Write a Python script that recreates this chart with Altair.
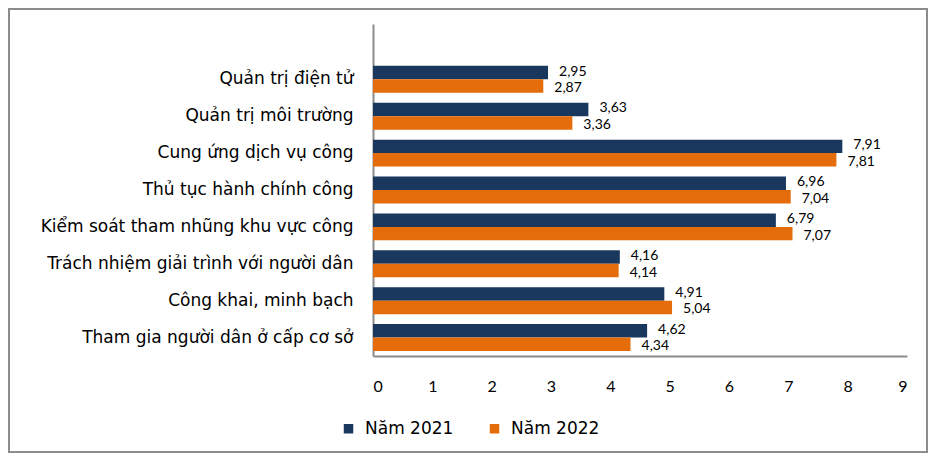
import altair as alt
import pandas as pd

categories = [
    "Quản trị điện tử\u00a0",
    "Quản trị môi trường\u00a0",
    "Cung ứng dịch vụ công",
    "Thủ tục hành chính công",
    "Kiểm soát tham nhũng khu vực công",
    "Trách nhiệm giải trình với người dân",
    "Công khai, minh bạch",
    "Tham gia người dân ở cấp cơ sở\u00a0",
]
series_names = ["Năm 2021", "Năm 2022"]
values_2021 = [2.95, 3.63, 7.91, 6.96, 6.79, 4.16, 4.91, 4.62]
values_2022 = [2.87, 3.36, 7.81, 7.04, 7.07, 4.14, 5.04, 4.34]
x_ticks = [0, 1, 2, 3, 4, 5, 6, 7, 8, 9]

colors = ["#1A375E", "#E46C0A"]

rows = []
for c, v1, v2 in zip(categories, values_2021, values_2022):
    rows.append({"category": c, "series": series_names[0], "value": v1})
    rows.append({"category": c, "series": series_names[1], "value": v2})
df = pd.DataFrame(rows)

y_domain = [" "] + categories

base = alt.Chart(df).encode(
    y=alt.Y(
        "category:N",
        scale=alt.Scale(domain=y_domain, paddingInner=0.27, paddingOuter=0.135),
        axis=alt.Axis(
            title=None,
            ticks=False,
            labelPadding=20,
            labelFont="DejaVu Sans",
            labelFontSize=17,
            labelColor="#000000",
            domainColor="#8C8C8C",
            domainWidth=2,
            labelLimit=400,
        ),
    ),
    yOffset=alt.YOffset(
        "series:N", sort=series_names, scale=alt.Scale(paddingInner=0, paddingOuter=0)
    ),
)

bars = base.mark_bar().encode(
    x=alt.X(
        "value:Q",
        scale=alt.Scale(domain=[0, 9], nice=False),
        axis=alt.Axis(
            title=None,
            values=x_ticks,
            grid=False,
            ticks=False,
            labelPadding=22,
            labelFont="Lato",
            labelFontSize=16,
            labelColor="#000000",
            domainColor="#8C8C8C",
            domainWidth=2,
            format="d",
        ),
    ),
    color=alt.Color(
        "series:N",
        scale=alt.Scale(domain=series_names, range=colors),
        legend=alt.Legend(
            title=None,
            orient="none",
            direction="horizontal",
            legendX=-33,
            legendY=396,
            symbolType="square",
            symbolSize=90,
            symbolStrokeWidth=0,
            labelFont="DejaVu Sans",
            labelFontSize=17,
            labelColor="#000000",
            labelOffset=8,
            columnPadding=32,
        ),
    ),
)

label_base = base.transform_calculate(
    label="replace(format(datum.value, '.2f'), '.', ',')"
)

labels_2021 = label_base.transform_filter(
    alt.datum.series == series_names[0]
).mark_text(
    align="left", baseline="middle", dx=11, dy=-1, font="Lato", fontSize=14, color="#000000"
).encode(x="value:Q", text="label:N")

labels_2022 = label_base.transform_filter(
    alt.datum.series == series_names[1]
).mark_text(
    align="left", baseline="middle", dx=11, dy=2, font="Lato", fontSize=14, color="#000000"
).encode(x="value:Q", text="label:N")

frame = alt.Chart(pd.DataFrame({"a": [0]})).mark_rect(
    filled=False, stroke="#8C8C8C", strokeWidth=2
).encode(
    x=alt.value(-364), x2=alt.value(554), y=alt.value(-15), y2=alt.value(428)
)

chart = alt.layer(frame, bars, labels_2021, labels_2022).properties(
    width=534,
    height=332,
    padding={"left": 365, "top": 16, "right": 21, "bottom": 97},
    autosize=alt.AutoSizeParams(type="none"),
).configure_view(stroke=None)

chart.save("out.html", embed_options={"renderer": "svg", "actions": False})
